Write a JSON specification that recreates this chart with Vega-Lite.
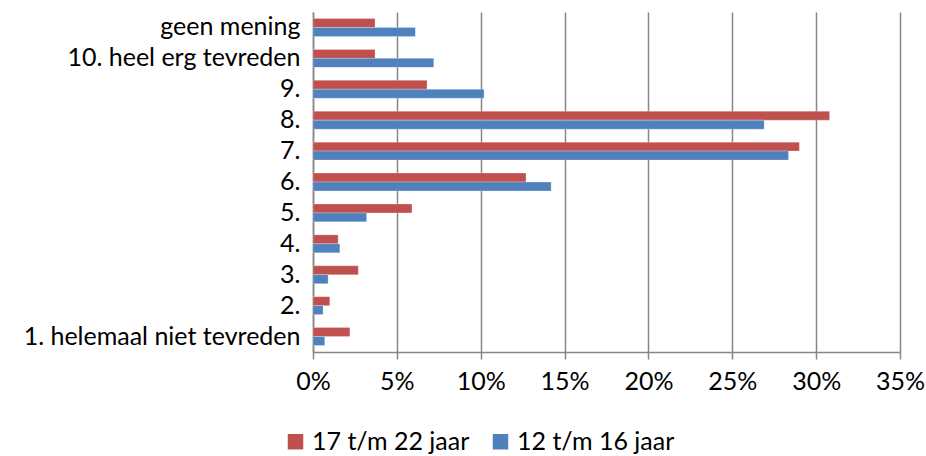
{
  "$schema": "https://vega.github.io/schema/vega-lite/v6.json",
  "width": 587,
  "height": 340,
  "autosize": {"type": "none"},
  "padding": {"left": 313, "top": 12, "right": 26, "bottom": 104},
  "background": "white",
  "config": {
    "view": {"stroke": null},
    "font": "Lato"
  },
  "data": {
    "values": [
      {"cat": "geen mening", "groep": "17 t/m 22 jaar", "pct": 0.037},
      {"cat": "geen mening", "groep": "12 t/m 16 jaar", "pct": 0.061},
      {"cat": "10. heel erg tevreden", "groep": "17 t/m 22 jaar", "pct": 0.037},
      {"cat": "10. heel erg tevreden", "groep": "12 t/m 16 jaar", "pct": 0.072},
      {"cat": "9.", "groep": "17 t/m 22 jaar", "pct": 0.068},
      {"cat": "9.", "groep": "12 t/m 16 jaar", "pct": 0.102},
      {"cat": "8.", "groep": "17 t/m 22 jaar", "pct": 0.308},
      {"cat": "8.", "groep": "12 t/m 16 jaar", "pct": 0.269},
      {"cat": "7.", "groep": "17 t/m 22 jaar", "pct": 0.290},
      {"cat": "7.", "groep": "12 t/m 16 jaar", "pct": 0.2835},
      {"cat": "6.", "groep": "17 t/m 22 jaar", "pct": 0.127},
      {"cat": "6.", "groep": "12 t/m 16 jaar", "pct": 0.142},
      {"cat": "5.", "groep": "17 t/m 22 jaar", "pct": 0.059},
      {"cat": "5.", "groep": "12 t/m 16 jaar", "pct": 0.032},
      {"cat": "4.", "groep": "17 t/m 22 jaar", "pct": 0.015},
      {"cat": "4.", "groep": "12 t/m 16 jaar", "pct": 0.016},
      {"cat": "3.", "groep": "17 t/m 22 jaar", "pct": 0.027},
      {"cat": "3.", "groep": "12 t/m 16 jaar", "pct": 0.009},
      {"cat": "2.", "groep": "17 t/m 22 jaar", "pct": 0.010},
      {"cat": "2.", "groep": "12 t/m 16 jaar", "pct": 0.006},
      {"cat": "1. helemaal niet tevreden", "groep": "17 t/m 22 jaar", "pct": 0.022},
      {"cat": "1. helemaal niet tevreden", "groep": "12 t/m 16 jaar", "pct": 0.007}
    ]
  },
  "mark": {"type": "bar", "stroke": "white", "strokeOpacity": 0.5, "strokeWidth": 0.5},
  "encoding": {
    "y": {
      "field": "cat",
      "type": "nominal",
      "sort": ["geen mening", "10. heel erg tevreden", "9.", "8.", "7.", "6.", "5.", "4.", "3.", "2.", "1. helemaal niet tevreden"],
      "scale": {"paddingInner": 0.42, "paddingOuter": 0.21},
      "axis": {
        "title": null,
        "ticks": false,
        "domainColor": "#868686",
        "domainWidth": 1.5,
        "labelFontSize": 25,
        "labelColor": "#000000",
        "labelPadding": 13,
        "labelLimit": 400
      }
    },
    "yOffset": {
      "field": "groep",
      "type": "nominal",
      "sort": ["17 t/m 22 jaar", "12 t/m 16 jaar"]
    },
    "x": {
      "field": "pct",
      "type": "quantitative",
      "scale": {"domain": [0, 0.35], "nice": false},
      "axis": {
        "title": null,
        "format": ".0%",
        "values": [0, 0.05, 0.1, 0.15, 0.2, 0.25, 0.3, 0.35],
        "grid": true,
        "gridColor": "#868686",
        "gridWidth": 1.5,
        "domainColor": "#868686",
        "domainWidth": 1.5,
        "tickColor": "#868686",
        "tickWidth": 1.5,
        "tickSize": 7,
        "labelFontSize": 25,
        "labelColor": "#000000",
        "labelPadding": 10,
        "labelFlush": false
      }
    },
    "color": {
      "field": "groep",
      "type": "nominal",
      "sort": ["17 t/m 22 jaar", "12 t/m 16 jaar"],
      "scale": {"domain": ["17 t/m 22 jaar", "12 t/m 16 jaar"], "range": ["#C0504D", "#4F81BD"]},
      "legend": {
        "title": null,
        "orient": "none",
        "direction": "horizontal",
        "legendX": -30,
        "legendY": 417,
        "symbolType": "square",
        "symbolSize": 240,
        "symbolStrokeWidth": 0,
        "labelFontSize": 25,
        "labelColor": "#000000",
        "labelLimit": 400,
        "labelOffset": 4,
        "columnPadding": 18
      }
    }
  }
}
